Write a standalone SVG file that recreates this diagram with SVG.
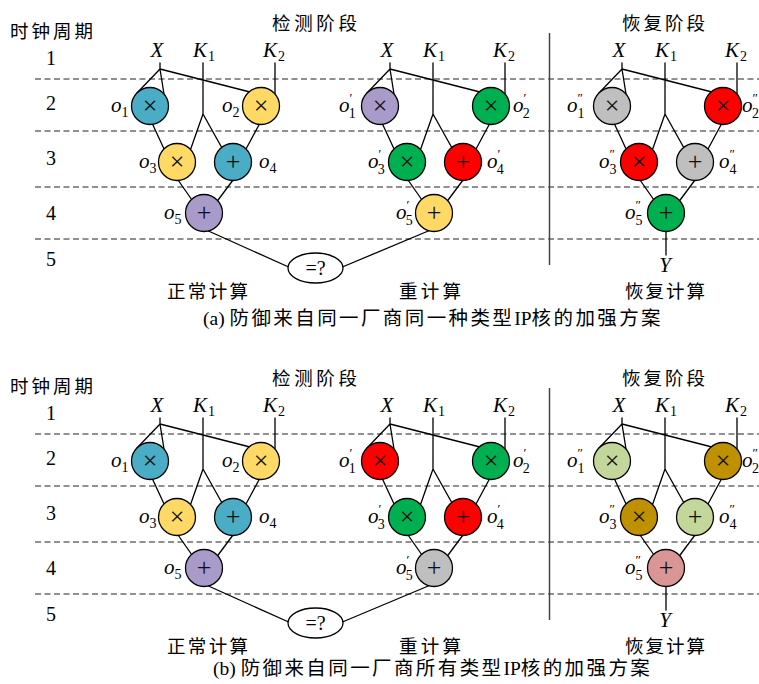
<svg xmlns="http://www.w3.org/2000/svg" width="759" height="684" viewBox="0 0 759 684">
<style>
  .dash{stroke:#222;stroke-width:1.2;stroke-dasharray:6 3.5;fill:none}
  .wire{stroke:#000;stroke-width:1.3;fill:none;stroke-linecap:round}
  .divider{stroke:#444;stroke-width:1.5}
  .node circle{stroke:#000;stroke-width:1.3}
  .op{font-family:"Liberation Serif",serif;font-size:26px;text-anchor:middle;fill:#111}
  .var{font-family:"Liberation Serif",serif;font-style:italic;font-size:21px;fill:#000}
  .sub{font-style:normal;font-size:14px}
  .sup{font-style:normal;font-size:13px}
  .num{font-family:"Liberation Serif",serif;font-size:20px;text-anchor:middle;fill:#000}
  .cjk{font-family:"Liberation Serif","Noto Sans CJK SC",sans-serif;font-size:18.5px;fill:#000}
  .cap{font-family:"Liberation Serif","Noto Sans CJK SC",sans-serif;font-size:19.5px;fill:#000}
</style>
<defs>
  <!-- shared wiring of one five-operation datapath -->
  <path id="dp-wires" class="wire" d="M160,63V69 M160,69L136.5,93.5 M160,69L164,94 M160,69L250,92 M203,63V114 M203,114L190,151 M203,114L222,148 M275,63V95 M152,123L165,151 M260,123L246,149 M178,180L192,200 M233,180L217,201.5"/>
  <!-- inputs X, K1, K2 -->
  <g id="dp-inputs">
    <text class="var" x="157" y="57" text-anchor="middle">X</text>
    <text class="var" x="193" y="57">K<tspan class="sub" dx="1" dy="4">1</tspan></text>
    <text class="var" x="263" y="57">K<tspan class="sub" dx="1" dy="4">2</tspan></text>
  </g>
  <!-- clock-cycle rows, stage titles and column titles -->
  <g id="rows">
    <text class="cjk" x="10" y="38" textLength="83">时钟周期</text>
    <text class="num" x="51" y="65">1</text>
    <text class="num" x="51" y="110">2</text>
    <text class="num" x="51" y="165">3</text>
    <text class="num" x="51" y="220">4</text>
    <text class="num" x="51" y="266">5</text>
    <path class="dash" d="M35,79H759 M35,131H759 M35,187H759 M35,239H759"/>
    <line class="divider" x1="549.5" y1="33" x2="549.5" y2="265"/>
    <text class="cjk" x="272" y="30" textLength="85">检测阶段</text>
    <text class="cjk" x="622" y="30" textLength="83">恢复阶段</text>
    <text class="cjk" x="167" y="298" textLength="81">正常计算</text>
    <text class="cjk" x="399" y="298" textLength="62">重计算</text>
    <text class="cjk" x="625" y="298" textLength="80">恢复计算</text>
  </g>
  <!-- comparison of normal and recomputed results, output Y -->
  <g id="check">
    <path class="wire" d="M204,229L292,268.5 M433,229L340,268 M666,230V255"/>
    <ellipse cx="315.5" cy="268" rx="27.5" ry="15" fill="#fff" stroke="#000" stroke-width="1.3"/>
    <text class="num" x="315.5" y="275" font-size="21">=?</text>
    <text class="var" x="665" y="272" text-anchor="middle">Y</text>
  </g>
</defs>

<!-- (a) same vendor, same IP type -->
<g id="fig-a">
  <use href="#rows"/>
  <g id="a-connectors"><use href="#check"/></g>

  <g id="a-normal">
    <use href="#dp-wires"/><use href="#dp-inputs"/>
    <g id="a-n-o1" class="node"><circle cx="150" cy="106" r="18.5" fill="#4BACC6"/><text class="op" x="150" y="114">×</text><text class="var" x="111" y="112">o<tspan class="sub" dy="4.5">1</tspan></text></g>
    <g id="a-n-o2" class="node"><circle cx="261" cy="106" r="18.5" fill="#FFD966"/><text class="op" x="261" y="114">×</text><text class="var" x="222" y="112">o<tspan class="sub" dy="4.5">2</tspan></text></g>
    <g id="a-n-o3" class="node"><circle cx="177" cy="162" r="18.5" fill="#FFD966"/><text class="op" x="177" y="170">×</text><text class="var" x="139" y="168">o<tspan class="sub" dy="4.5">3</tspan></text></g>
    <g id="a-n-o4" class="node"><circle cx="233" cy="162" r="18.5" fill="#4BACC6"/><text class="op" x="233" y="170">+</text><text class="var" x="259" y="168">o<tspan class="sub" dy="4.5">4</tspan></text></g>
    <g id="a-n-o5" class="node"><circle cx="204" cy="213" r="18.5" fill="#A99BC9"/><text class="op" x="204" y="221">+</text><text class="var" x="164" y="219">o<tspan class="sub" dy="4.5">5</tspan></text></g>
  </g>

  <g id="a-recompute" transform="translate(230,0)">
    <use href="#dp-wires"/><use href="#dp-inputs"/>
    <g id="a-r-o1" class="node"><circle cx="150" cy="106" r="18.5" fill="#A99BC9"/><text class="op" x="150" y="114">×</text><text class="var" x="109" y="112">o<tspan class="sup" dy="-10">′</tspan><tspan class="sub" dx="-3.5" dy="15.5">1</tspan></text></g>
    <g id="a-r-o2" class="node"><circle cx="261" cy="106" r="18.5" fill="#00B050"/><text class="op" x="261" y="114">×</text><text class="var" x="283" y="112">o<tspan class="sup" dy="-10">′</tspan><tspan class="sub" dx="-3.5" dy="15.5">2</tspan></text></g>
    <g id="a-r-o3" class="node"><circle cx="177" cy="162" r="18.5" fill="#00B050"/><text class="op" x="177" y="170">×</text><text class="var" x="138" y="168">o<tspan class="sup" dy="-10">′</tspan><tspan class="sub" dx="-3.5" dy="15.5">3</tspan></text></g>
    <g id="a-r-o4" class="node"><circle cx="233" cy="162" r="18.5" fill="#FF0000"/><text class="op" x="233" y="170">+</text><text class="var" x="257" y="168">o<tspan class="sup" dy="-10">′</tspan><tspan class="sub" dx="-3.5" dy="15.5">4</tspan></text></g>
    <g id="a-r-o5" class="node"><circle cx="204" cy="213" r="18.5" fill="#FFD966"/><text class="op" x="204" y="221">+</text><text class="var" x="166" y="219">o<tspan class="sup" dy="-10">′</tspan><tspan class="sub" dx="-3.5" dy="15.5">5</tspan></text></g>
  </g>

  <g id="a-recovery" transform="translate(462,0)">
    <use href="#dp-wires"/><use href="#dp-inputs"/>
    <g id="a-v-o1" class="node"><circle cx="150" cy="106" r="18.5" fill="#BFBFBF"/><text class="op" x="150" y="114">×</text><text class="var" x="105" y="112">o<tspan class="sup" dy="-10">″</tspan><tspan class="sub" dx="-5.5" dy="15.5">1</tspan></text></g>
    <g id="a-v-o2" class="node"><circle cx="261" cy="106" r="18.5" fill="#FF0000"/><text class="op" x="261" y="114">×</text><text class="var" x="280" y="112">o<tspan class="sup" dy="-10">″</tspan><tspan class="sub" dx="-6" dy="15.5">2</tspan></text></g>
    <g id="a-v-o3" class="node"><circle cx="177" cy="162" r="18.5" fill="#FF0000"/><text class="op" x="177" y="170">×</text><text class="var" x="137" y="168">o<tspan class="sup" dy="-10">″</tspan><tspan class="sub" dx="-5.5" dy="15.5">3</tspan></text></g>
    <g id="a-v-o4" class="node"><circle cx="233" cy="162" r="18.5" fill="#BFBFBF"/><text class="op" x="233" y="170">+</text><text class="var" x="257" y="168">o<tspan class="sup" dy="-10">″</tspan><tspan class="sub" dx="-5.5" dy="15.5">4</tspan></text></g>
    <g id="a-v-o5" class="node"><circle cx="204" cy="213" r="18.5" fill="#00B050"/><text class="op" x="204" y="221">+</text><text class="var" x="163" y="219">o<tspan class="sup" dy="-10">″</tspan><tspan class="sub" dx="-5.5" dy="15.5">5</tspan></text></g>
  </g>

  <text class="cap" x="203" y="325">(a) <tspan letter-spacing="2.4">防御来自同一厂商同一种类型</tspan>IP<tspan letter-spacing="2.4">核的加强方案</tspan></text>
</g>

<!-- (b) same vendor, all IP types -->
<g id="fig-b">
  <g transform="translate(0,355)">
    <use href="#rows"/>
    <g id="b-connectors"><use href="#check"/></g>

    <g id="b-normal">
      <use href="#dp-wires"/><use href="#dp-inputs"/>
      <g id="b-n-o1" class="node"><circle cx="150" cy="106" r="18.5" fill="#4BACC6"/><text class="op" x="150" y="114">×</text><text class="var" x="111" y="112">o<tspan class="sub" dy="4.5">1</tspan></text></g>
      <g id="b-n-o2" class="node"><circle cx="261" cy="106" r="18.5" fill="#FFD966"/><text class="op" x="261" y="114">×</text><text class="var" x="222" y="112">o<tspan class="sub" dy="4.5">2</tspan></text></g>
      <g id="b-n-o3" class="node"><circle cx="177" cy="162" r="18.5" fill="#FFD966"/><text class="op" x="177" y="170">×</text><text class="var" x="139" y="168">o<tspan class="sub" dy="4.5">3</tspan></text></g>
      <g id="b-n-o4" class="node"><circle cx="233" cy="162" r="18.5" fill="#4BACC6"/><text class="op" x="233" y="170">+</text><text class="var" x="259" y="168">o<tspan class="sub" dy="4.5">4</tspan></text></g>
      <g id="b-n-o5" class="node"><circle cx="204" cy="213" r="18.5" fill="#A99BC9"/><text class="op" x="204" y="221">+</text><text class="var" x="164" y="219">o<tspan class="sub" dy="4.5">5</tspan></text></g>
    </g>

    <g id="b-recompute" transform="translate(230,0)">
      <use href="#dp-wires"/><use href="#dp-inputs"/>
      <g id="b-r-o1" class="node"><circle cx="150" cy="106" r="18.5" fill="#FF0000"/><text class="op" x="150" y="114">×</text><text class="var" x="109" y="112">o<tspan class="sup" dy="-10">′</tspan><tspan class="sub" dx="-3.5" dy="15.5">1</tspan></text></g>
      <g id="b-r-o2" class="node"><circle cx="261" cy="106" r="18.5" fill="#00B050"/><text class="op" x="261" y="114">×</text><text class="var" x="283" y="112">o<tspan class="sup" dy="-10">′</tspan><tspan class="sub" dx="-3.5" dy="15.5">2</tspan></text></g>
      <g id="b-r-o3" class="node"><circle cx="177" cy="162" r="18.5" fill="#00B050"/><text class="op" x="177" y="170">×</text><text class="var" x="138" y="168">o<tspan class="sup" dy="-10">′</tspan><tspan class="sub" dx="-3.5" dy="15.5">3</tspan></text></g>
      <g id="b-r-o4" class="node"><circle cx="233" cy="162" r="18.5" fill="#FF0000"/><text class="op" x="233" y="170">+</text><text class="var" x="257" y="168">o<tspan class="sup" dy="-10">′</tspan><tspan class="sub" dx="-3.5" dy="15.5">4</tspan></text></g>
      <g id="b-r-o5" class="node"><circle cx="204" cy="213" r="18.5" fill="#BFBFBF"/><text class="op" x="204" y="221">+</text><text class="var" x="166" y="219">o<tspan class="sup" dy="-10">′</tspan><tspan class="sub" dx="-3.5" dy="15.5">5</tspan></text></g>
    </g>

    <g id="b-recovery" transform="translate(462,0)">
      <use href="#dp-wires"/><use href="#dp-inputs"/>
      <g id="b-v-o1" class="node"><circle cx="150" cy="106" r="18.5" fill="#C4D79B"/><text class="op" x="150" y="114">×</text><text class="var" x="105" y="112">o<tspan class="sup" dy="-10">″</tspan><tspan class="sub" dx="-5.5" dy="15.5">1</tspan></text></g>
      <g id="b-v-o2" class="node"><circle cx="261" cy="106" r="18.5" fill="#BF9000"/><text class="op" x="261" y="114">×</text><text class="var" x="280" y="112">o<tspan class="sup" dy="-10">″</tspan><tspan class="sub" dx="-6" dy="15.5">2</tspan></text></g>
      <g id="b-v-o3" class="node"><circle cx="177" cy="162" r="18.5" fill="#BF9000"/><text class="op" x="177" y="170">×</text><text class="var" x="137" y="168">o<tspan class="sup" dy="-10">″</tspan><tspan class="sub" dx="-5.5" dy="15.5">3</tspan></text></g>
      <g id="b-v-o4" class="node"><circle cx="233" cy="162" r="18.5" fill="#C4D79B"/><text class="op" x="233" y="170">+</text><text class="var" x="257" y="168">o<tspan class="sup" dy="-10">″</tspan><tspan class="sub" dx="-5.5" dy="15.5">4</tspan></text></g>
      <g id="b-v-o5" class="node"><circle cx="204" cy="213" r="18.5" fill="#DA9694"/><text class="op" x="204" y="221">+</text><text class="var" x="163" y="219">o<tspan class="sup" dy="-10">″</tspan><tspan class="sub" dx="-5.5" dy="15.5">5</tspan></text></g>
    </g>
  </g>

  <text class="cap" x="213" y="675">(b) <tspan letter-spacing="2.4">防御来自同一厂商所有类型</tspan>IP<tspan letter-spacing="2.4">核的加强方案</tspan></text>
</g>
</svg>
